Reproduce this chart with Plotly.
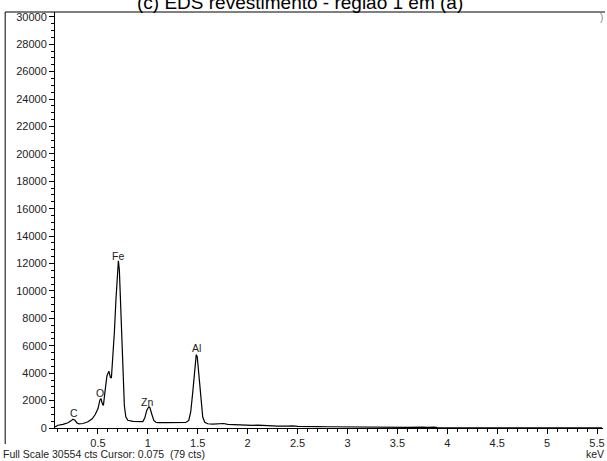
import plotly.graph_objects as go

energy_kev = [0.07, 0.10, 0.15, 0.20, 0.23, 0.25, 0.27, 0.29, 0.31, 0.35, 0.40, 0.44, 0.47, 0.50,
              0.52, 0.53, 0.545, 0.555, 0.57, 0.59, 0.61, 0.625, 0.635, 0.65, 0.665, 0.68, 0.695,
              0.705, 0.715, 0.725, 0.735, 0.75, 0.765, 0.78, 0.80, 0.85, 0.90, 0.95, 0.97, 0.99,
              1.01, 1.02, 1.04, 1.06, 1.08, 1.10, 1.20, 1.30, 1.38, 1.41, 1.43, 1.45, 1.47, 1.485,
              1.495, 1.51, 1.53, 1.55, 1.57, 1.60, 1.65, 1.75, 1.76, 1.80, 1.90, 2.00, 2.05, 2.10,
              2.20, 2.30, 2.40, 2.45, 2.50, 2.60, 2.70, 2.80, 2.90, 2.95, 3.00, 3.05, 3.20, 3.40,
              3.60, 3.75, 3.80, 3.87, 3.90, 4.00, 4.50, 5.00, 5.55]
counts = [80, 200, 260, 380, 520, 640, 560, 370, 300, 330, 450, 650, 950, 1400,
          2050, 2150, 1750, 1650, 2600, 3800, 4150, 3700, 3650, 5000, 7000, 9300, 11800,
          12200, 11500, 9500, 7000, 3300, 1600, 800, 560, 480, 450, 470, 750, 1300,
          1550, 1500, 1000, 550, 420, 390, 390, 385, 400, 550, 1200, 2600, 4300, 5350,
          5200, 3900, 2000, 800, 420, 310, 290, 300, 330, 270, 230, 200, 190, 210,
          160, 140, 130, 160, 120, 130, 100, 90, 80, 110, 80, 90, 70, 60,
          50, 60, 40, 70, 30, 20, 15, 10, 10]

peak_labels = ["C", "O", "Fe", "Zn", "Al"]
peak_label_x = [0.259, 0.517, 0.706, 0.995, 1.49]
peak_label_y = [1130, 2590, 12580, 1930, 5870]

x_tick_vals = [0.5, 1, 1.5, 2, 2.5, 3, 3.5, 4, 4.5, 5, 5.5]
x_tick_text = ["0.5", "1", "1.5", "2", "2.5", "3", "3.5", "4", "4.5", "5", "5.5"]
y_tick_vals = [0, 2000, 4000, 6000, 8000, 10000, 12000, 14000, 16000, 18000, 20000,
               22000, 24000, 26000, 28000, 30000]
y_tick_text = ["0", "2000", "4000", "6000", "8000", "10000", "12000", "14000", "16000",
               "18000", "20000", "22000", "24000", "26000", "28000", "30000"]

title_text = "(c) EDS revestimento - região 1 em (a)"
footer_text = "Full Scale 30554 cts Cursor: 0.075  (79 cts)"

W, H = 607, 461
ML, MR, MT, MB = 55, 2, 12, 33
PW, PH = W - ML - MR, H - MT - MB

def px_x(p):
    return (p - ML) / PW

def px_y(p):
    return (H - MB - p) / PH

fig = go.Figure()
fig.add_trace(go.Scatter(x=energy_kev, y=counts, mode="lines",
                         line=dict(color="black", width=1.2), showlegend=False,
                         hoverinfo="skip"))

font = dict(family="Arial, Liberation Sans, sans-serif", size=10.5, color="#222")
tick_font = dict(family="Arial, Liberation Sans, sans-serif", size=11, color="#222")
for t, xx, yy in zip(peak_labels, peak_label_x, peak_label_y):
    fig.add_annotation(x=xx, y=yy, text=t, showarrow=False, font=font,
                       xanchor="center", yanchor="middle")

fig.add_annotation(xref="paper", yref="paper", x=px_x(301), y=px_y(2.5), text=title_text,
                   showarrow=False, xanchor="center", yanchor="middle",
                   font=dict(family="Arial, Liberation Sans, sans-serif", size=19, color="black"))
fig.add_annotation(xref="paper", yref="paper", x=px_x(1), y=px_y(454), text=footer_text,
                   showarrow=False, xanchor="left", yanchor="middle", font=font)
fig.add_annotation(xref="paper", yref="paper", x=px_x(597), y=px_y(454), text="keV",
                   showarrow=False, xanchor="center", yanchor="middle", font=font)
fig.add_annotation(xref="paper", yref="paper", x=px_x(603), y=px_y(18), text=")",
                   showarrow=False, xanchor="center", yanchor="middle",
                   font=dict(family="Arial", size=10, color="#888"))

# outer frame lines
fig.add_shape(type="line", xref="paper", yref="paper", x0=px_x(5), x1=px_x(607),
              y0=px_y(12), y1=px_y(12), line=dict(color="black", width=1))
fig.add_shape(type="line", xref="paper", yref="paper", x0=px_x(5), x1=px_x(5),
              y0=px_y(12), y1=px_y(444), line=dict(color="black", width=1))

fig.update_layout(
    width=W, height=H,
    margin=dict(l=ML, r=MR, t=MT, b=MB),
    paper_bgcolor="white", plot_bgcolor="white",
    xaxis=dict(range=[0.07, 5.56], tickvals=x_tick_vals, ticktext=x_tick_text,
               showgrid=False, zeroline=False, showline=True, linecolor="black", linewidth=1,
               ticks="outside", ticklen=5, tickcolor="black", tickfont=tick_font,
               minor=dict(dtick=0.1, ticks="outside", ticklen=3, tickcolor="black", showgrid=False)),
    yaxis=dict(range=[0, 30350], tickvals=y_tick_vals, ticktext=y_tick_text,
               showgrid=False, zeroline=False, showline=True, linecolor="black", linewidth=1,
               ticks="outside", ticklen=5, tickcolor="black", tickfont=tick_font,
               minor=dict(dtick=500, ticks="outside", ticklen=3, tickcolor="black", showgrid=False)),
)

fig.write_html("out.html")
